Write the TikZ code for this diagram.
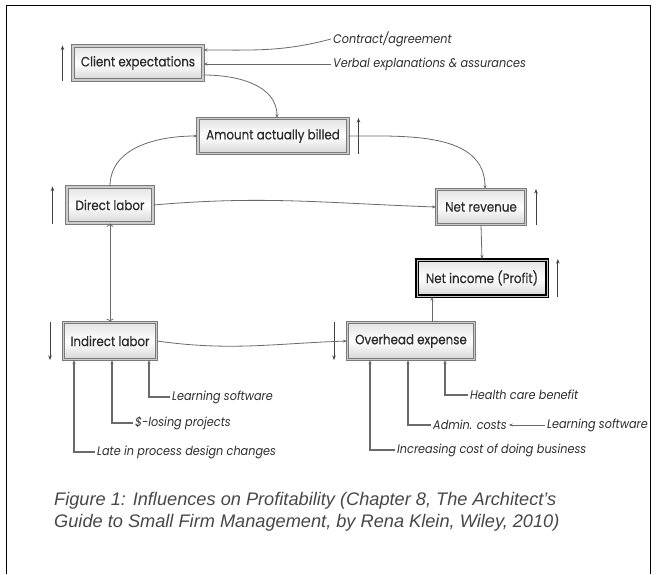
\documentclass[tikz,border=0pt]{standalone}
\usepackage{fontspec}
\setmainfont{Poppins}[FakeStretch=0.9]
\newfontfamily\boxfont{Poppins}[FakeStretch=0.88, FakeBold=0.6]
\newfontfamily\capfont{Liberation Sans}
\usetikzlibrary{arrows.meta,positioning,shadows}
\definecolor{boxGray}{HTML}{7A7A7A}
\definecolor{inkGray}{HTML}{2C2C2C}
\definecolor{lineGray}{HTML}{6A6A6A}
\tikzset{
  box/.style={draw=boxGray, double=gray!40, double distance=1.8pt, line width=1pt,
    top color=gray!22, bottom color=gray!32, middle color=white,
    drop shadow={shadow xshift=1.6pt, shadow yshift=-1.6pt, fill=gray!55},
    text=inkGray, font=\boxfont\fontsize{13.5}{15}\selectfont, inner sep=0pt},
  profit/.style={box, draw=black, double=gray!45, line width=1.7pt, double distance=0.8pt},
  link/.style={draw=lineGray, line width=0.8pt, -{Stealth[length=4pt,width=3pt]}},
  feed/.style={draw=lineGray, line width=1.1pt, -{Stealth[length=4pt,width=3pt]}},
  trend/.style={draw=black!75, line width=0.9pt, -{Stealth[length=4.5pt,width=3.5pt]}},
  lbl/.style={anchor=west, inner sep=2pt, text=inkGray, font=\itshape\fontsize{12.5}{14}\selectfont}
}
\begin{document}
\begin{tikzpicture}[x=1pt,y=1pt]
  \useasboundingbox (0,0) rectangle (656,-574);
  \draw[line width=1pt] (6,-574) |- (650,-5) -- (650,-574);

  % boxes
  \node[box, minimum width=130pt, minimum height=34pt] (client)   at (138,-63)   {Client expectations};
  \node[box, minimum width=150pt, minimum height=35pt] (billed)   at (273,-136)  {Amount actually billed};
  \node[box, minimum width=86pt,  minimum height=36pt] (direct)   at (110,-205)  {Direct labor};
  \node[box, minimum width=89pt,  minimum height=35pt] (netrev)   at (481,-207)  {Net revenue};
  \node[profit, minimum width=130pt, minimum height=36pt] (netinc) at (482,-278) {Net income (Profit)};
  \node[box, minimum width=93pt,  minimum height=37pt] (indirect) at (110,-341)  {Indirect labor};
  \node[box, minimum width=127pt, minimum height=37pt] (overhead) at (411,-341)  {Overhead expense};

  % outside influences
  \node[lbl] (contract) at (331,-39)  {Contract/agreement};
  \node[lbl] (verbal)   at (331,-64)  {Verbal explanations \& assurances};
  \node[lbl] (softL)    at (170,-397) {Learning software};
  \node[lbl] (losing)   at (133,-423) {\$-losing projects};
  \node[lbl] (late)     at (95,-452)  {Late in process design changes};
  \node[lbl] (health)   at (468,-395) {Health care benefit};
  \node[lbl] (admin)    at (431,-425) {Admin. costs};
  \node[lbl] (softR)    at (545,-425) {Learning software};
  \node[lbl] (rising)   at (395,-450) {Increasing cost of doing business};

  % up / down trends
  \draw[trend] ([xshift=-10pt]client.south west)   -- ([xshift=-10pt]client.north west);
  \draw[trend] ([xshift=10pt]billed.south east)    -- ([xshift=10pt]billed.north east);
  \draw[trend] ([xshift=-14pt]direct.south west)   -- ([xshift=-14pt]direct.north west);
  \draw[trend] ([xshift=10pt]netrev.south east)    -- ([xshift=10pt]netrev.north east);
  \draw[trend] ([xshift=10pt]netinc.south east)    -- ([xshift=10pt]netinc.north east);
  \draw[trend] ([xshift=-13pt]indirect.north west) -- ([xshift=-13pt]indirect.south west);
  \draw[trend] ([xshift=-13pt]overhead.north west) -- ([xshift=-13pt]overhead.south west);

  % connectors
  \draw[link] (contract.west) to[out=195, in=0] ([yshift=13pt]client.east);
  \draw[link] (verbal.west) -- (verbal.west -| client.east);
  \draw[link] ([yshift=-12pt]client.east) to[out=0, in=90] ([xshift=4pt]billed.north);
  \draw[link] (direct.north) to[out=90, in=180] (billed.west);
  \draw[link] (billed.east) to[out=0, in=90] ([xshift=4pt]netrev.north);
  \draw[link] (direct.east) to[out=5, in=178] (netrev.west);
  \draw[link] (netrev.south) -- (netinc.north);
  \draw[link, <->] (direct.south) -- (indirect.north);
  \draw[link] (indirect.east) to[out=-8, in=182] (overhead.west);
  \draw[link] ([xshift=21pt]overhead.north) -- ([xshift=21pt]overhead.north |- netinc.south);
  \draw[feed] (softL.west)  -| ([xshift=39pt]indirect.south);
  \draw[feed] (losing.west) -| ([xshift=2pt]indirect.south);
  \draw[feed] (late.west)   -| ([xshift=-36pt]indirect.south);
  \draw[feed] (health.west) -| ([xshift=34pt]overhead.south);
  \draw[feed] (admin.west)  -| ([xshift=-3pt]overhead.south);
  \draw[feed] (rising.west) -| ([xshift=-41pt]overhead.south);
  \draw[link] (softR.west) -- (admin.east);

  % caption
  \node[anchor=north west, align=left, inner sep=0pt, text=black!72,
        font=\capfont\itshape\fontsize{18.2}{22}\selectfont] (caption) at (54,-492)
    {Figure 1: Influences on Profitability (Chapter 8, The Architect’s\\
     Guide to Small Firm Management, by Rena Klein, Wiley, 2010)};
\end{tikzpicture}
\end{document}
